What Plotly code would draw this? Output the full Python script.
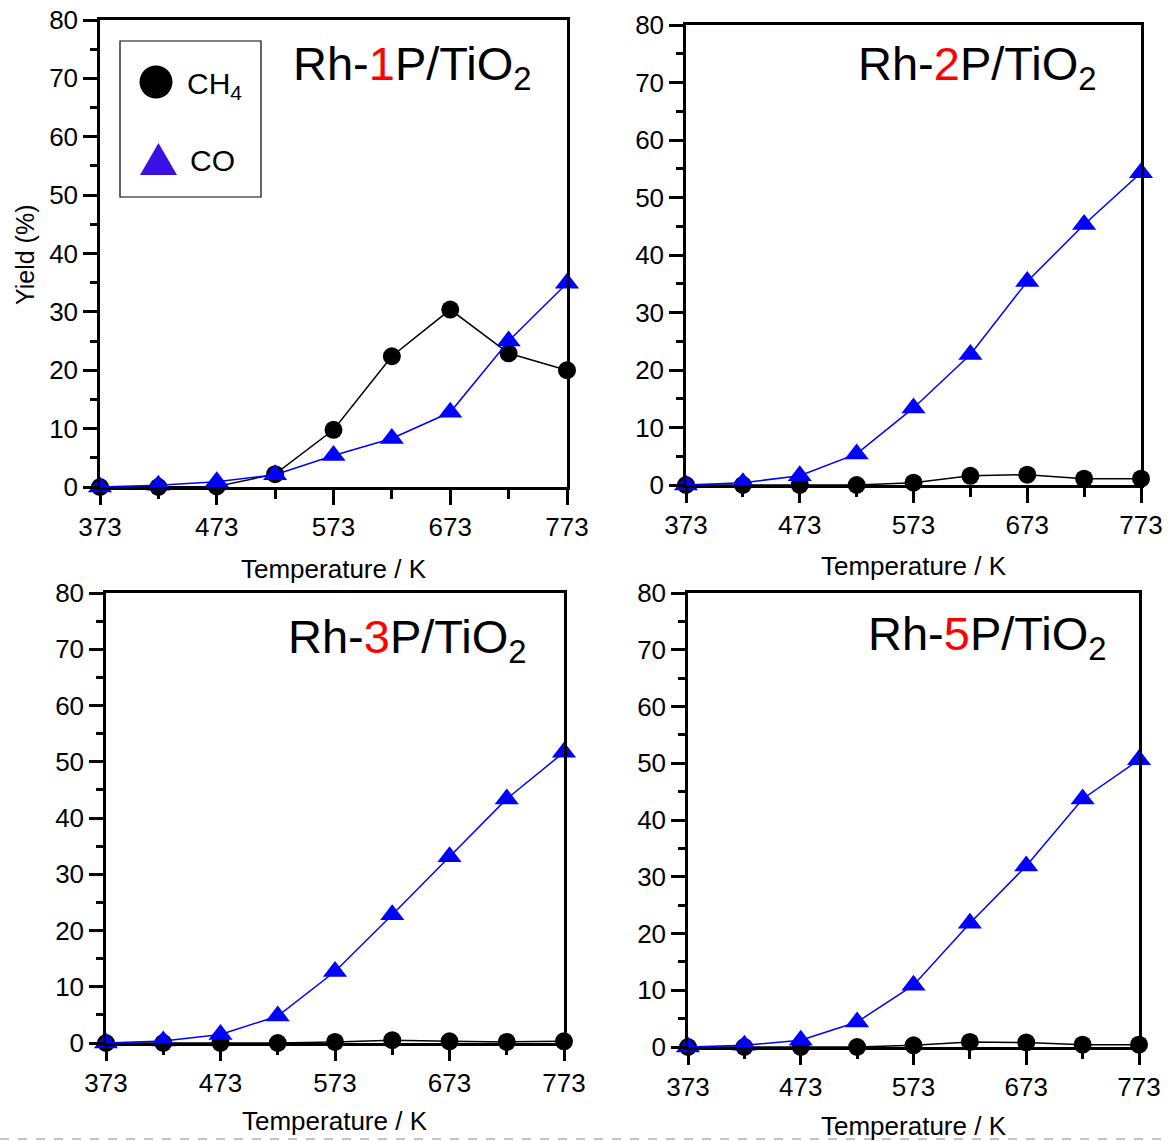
import plotly.graph_objects as go

# Reaction temperatures (K)
temperature = [373, 423, 473, 523, 573, 623, 673, 723, 773]

# Product yields (%) for each catalyst
ch4_1p = [0, 0, 0.1, 2.2, 9.8, 22.4, 30.4, 22.9, 20.0]
co_1p = [0, 0.3, 0.9, 2.1, 5.4, 8.3, 12.8, 25.0, 34.9]

ch4_2p = [0, 0, 0, 0, 0.4, 1.6, 1.8, 1.1, 1.1]
co_2p = [0, 0.4, 1.6, 5.4, 13.4, 22.7, 35.4, 45.3, 54.3]

ch4_3p = [0, 0, 0, 0, 0.2, 0.5, 0.3, 0.2, 0.3]
co_3p = [0, 0.35, 1.5, 4.8, 12.7, 22.8, 33.1, 43.4, 51.7]

ch4_5p = [0, 0, 0, 0, 0.3, 0.9, 0.8, 0.4, 0.4]
co_5p = [0, 0.3, 1.2, 4.4, 10.9, 21.8, 31.9, 43.7, 50.6]

panel_labels = ["1", "2", "3", "5"]
x_ticks = [373, 473, 573, 673, 773]

W, H = 1168, 1141
FONT = "Liberation Sans, Arial, Helvetica, sans-serif"


def px(x):
    return x / W


def py(y):
    return 1 - y / H


# Plot-area boxes in pixels: (left, right, top, bottom)
boxes = [
    (100, 567, 20, 487),
    (686, 1141, 25, 485),
    (106, 564, 593, 1043),
    (688, 1139, 593, 1047),
]

series = [
    (ch4_1p, co_1p),
    (ch4_2p, co_2p),
    (ch4_3p, co_3p),
    (ch4_5p, co_5p),
]

fig = go.Figure()
layout = dict(
    width=W, height=H, autosize=False,
    margin=dict(l=0, r=0, t=0, b=0, pad=0),
    paper_bgcolor="white", plot_bgcolor="white",
    showlegend=False,
    font=dict(family=FONT, color="black"),
)

for i, ((l, r, t, b), (ch4, co)) in enumerate(zip(boxes, series)):
    n = "" if i == 0 else str(i + 1)
    xa, ya = "x" + n, "y" + n
    fig.add_trace(go.Scatter(
        x=temperature, y=ch4, xaxis=xa, yaxis=ya, mode="lines+markers",
        name="CH4", cliponaxis=False,
        line=dict(color="black", width=1.5),
        marker=dict(symbol="circle", size=18, color="black"),
    ))
    fig.add_trace(go.Scatter(
        x=temperature, y=co, xaxis=xa, yaxis=ya, mode="lines+markers",
        name="CO", cliponaxis=False,
        line=dict(color="#0000ff", width=1.5),
        marker=dict(symbol="triangle-up", size=21, color="#0000ff"),
    ))
    layout["xaxis" + n] = dict(
        domain=[px(l), px(r)], anchor=ya, range=[373, 773], automargin=False,
        tickmode="array", tickvals=x_ticks, ticktext=[str(v) for v in x_ticks],
        ticks="outside", ticklen=15, tickwidth=2.5, tickcolor="black",
        minor=dict(ticks="outside", ticklen=9, tickwidth=2.5, tickcolor="black",
                   tickmode="linear", tick0=423, dtick=100, showgrid=False),
        showline=True, linecolor="black", linewidth=2.5, mirror=True,
        showgrid=False, zeroline=False, ticklabelstandoff=0,
        tickfont=dict(size=26, family=FONT, color="black"),
    )
    layout["yaxis" + n] = dict(
        domain=[py(b), py(t)], anchor=xa, range=[0, 80], automargin=False,
        tickmode="linear", tick0=0, dtick=10,
        ticks="outside", ticklen=14, tickwidth=2.5, tickcolor="black",
        minor=dict(ticks="outside", ticklen=7, tickwidth=2.5, tickcolor="black",
                   dtick=5, showgrid=False),
        showline=True, linecolor="black", linewidth=2.5, mirror=True,
        showgrid=False, zeroline=False, ticklabelstandoff=0,
        tickfont=dict(size=26, family=FONT, color="black"),
    )

fig.update_layout(**layout)

annotations = []
# Catalyst labels
title_pos = [(291, 67), (856, 67), (286, 640), (866, 637)]
for lab, (x, y) in zip(panel_labels, title_pos):
    annotations.append(dict(
        xref="paper", yref="paper", x=px(x), y=py(y),
        xanchor="left", yanchor="middle", showarrow=False,
        text="Rh-<span style='color:#ff0000'>" + lab + "</span>P/TiO<sub>2</sub>",
        font=dict(size=47, family=FONT, color="black"),
    ))

# Axis titles
for (cx, cy) in [(334, 569), (914, 566), (335, 1121), (914, 1126)]:
    annotations.append(dict(
        xref="paper", yref="paper", x=px(cx), y=py(cy),
        xanchor="center", yanchor="middle", showarrow=False,
        text="Temperature / K", font=dict(size=26, family=FONT, color="black"),
    ))
annotations.append(dict(
    xref="paper", yref="paper", x=px(25), y=py(255),
    xanchor="center", yanchor="middle", showarrow=False, textangle=-90,
    text="Yield (%)", font=dict(size=25, family=FONT, color="black"),
))

# Legend entries
annotations.append(dict(
    xref="paper", yref="paper", x=px(185), y=py(86),
    xanchor="left", yanchor="middle", showarrow=False,
    text="CH<sub>4</sub>", font=dict(size=30, family=FONT, color="black"),
))
annotations.append(dict(
    xref="paper", yref="paper", x=px(188), y=py(161),
    xanchor="left", yanchor="middle", showarrow=False,
    text="CO", font=dict(size=30, family=FONT, color="black"),
))

shapes = [
    # legend frame
    dict(type="rect", xref="paper", yref="paper",
         x0=px(120), x1=px(261), y0=py(197), y1=py(41),
         line=dict(color="black", width=1.2), fillcolor="rgba(0,0,0,0)"),
    # legend circle symbol
    dict(type="circle", xref="paper", yref="paper",
         x0=px(139.5), x1=px(172.5), y0=py(98.5), y1=py(65.5),
         line=dict(color="black", width=0), fillcolor="black"),
    # legend triangle symbol
    dict(type="path", xref="paper", yref="paper",
         path="M {:.5f},{:.5f} L {:.5f},{:.5f} L {:.5f},{:.5f} Z".format(
             px(140), py(175), px(177), py(175), px(158.5), py(143)),
         line=dict(color="#3a10e5", width=0), fillcolor="#3a10e5"),
    # dashed separator at the bottom
    dict(type="line", xref="paper", yref="paper",
         x0=0, x1=1, y0=py(1139), y1=py(1139),
         line=dict(color="#888888", width=1, dash="dash")),
]

fig.update_layout(annotations=annotations, shapes=shapes)
fig.write_html("out.html")
